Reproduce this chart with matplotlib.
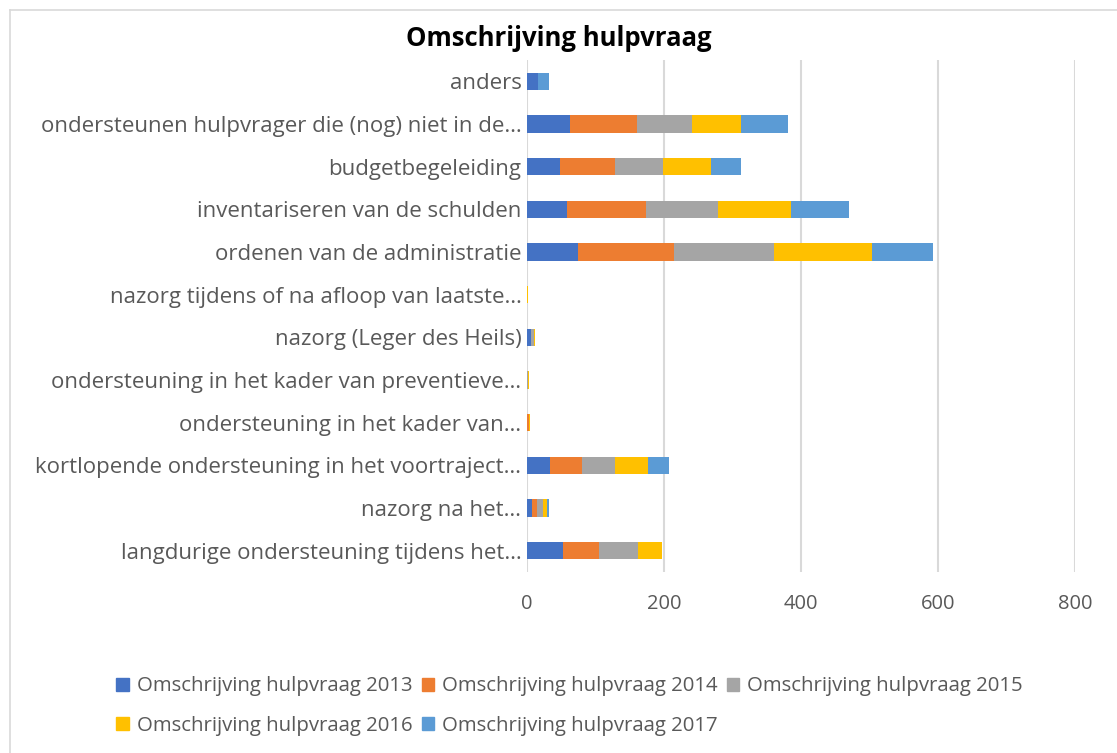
import numpy as np
import matplotlib.pyplot as plt
from matplotlib.lines import Line2D

plt.rcParams['font.family'] = ['Open Sans', 'DejaVu Sans']

# categorieen, van onder naar boven
categories = [
    "langdurige ondersteuning tijdens het…",
    "nazorg na het…",
    "kortlopende ondersteuning in het voortraject…",
    "ondersteuning in het kader van…",
    "ondersteuning in het kader van preventieve…",
    "nazorg (Leger des Heils)",
    "nazorg tijdens of na afloop van laatste…",
    "ordenen van de administratie",
    "inventariseren van de schulden",
    "budgetbegeleiding",
    "ondersteunen hulpvrager die (nog) niet in de…",
    "anders",
]
v2013 = [53, 7, 33, 0, 0, 6, 0, 75, 59, 48, 63, 16]
v2014 = [52, 8, 47, 3, 0, 0, 0, 140, 114, 81, 97, 0]
v2015 = [57, 9, 48, 0, 2, 4, 0, 145, 106, 69, 81, 0]
v2016 = [35, 5, 48, 2, 1, 2, 1, 143, 107, 70, 71, 0]
v2017 = [0, 3, 32, 0, 0, 0, 0, 90, 84, 44, 69, 16]

series = [v2013, v2014, v2015, v2016, v2017]
labels = ["Omschrijving hulpvraag 2013", "Omschrijving hulpvraag 2014",
          "Omschrijving hulpvraag 2015", "Omschrijving hulpvraag 2016",
          "Omschrijving hulpvraag 2017"]
colors = ["#4472C4", "#ED7D31", "#A5A5A5", "#FFC000", "#5B9BD5"]

fig = plt.figure(figsize=(11.17, 7.53), dpi=100)
ax = fig.add_axes([527/1117, 1-572/753, (1075-527)/1117, (572-60)/753])

y = np.arange(len(categories))
left = np.zeros(len(categories))
handles = []
for vals, lab, c in zip(series, labels, colors):
    ax.barh(y, vals, left=left, height=0.4, color=c, label=lab, zorder=3)
    left += np.array(vals)
    handles.append(plt.Rectangle((0, 0), 1, 1, color=c))

ax.set_xlim(0, 800)
ax.set_ylim(-0.5, len(categories) - 0.5)
ax.set_xticks([0, 200, 400, 600, 800])
ax.set_yticks(y)
ax.set_yticklabels(categories)
ax.tick_params(axis='x', length=0, labelsize=14.5, labelcolor="#595959", pad=16)
ax.tick_params(axis='y', length=0, labelsize=16, labelcolor="#595959", pad=4)
ax.grid(axis='x', color="#D9D9D9", linewidth=1.5, zorder=0)
for s in ax.spines.values():
    s.set_visible(False)

fig.text(0.5, 1-38/753, "Omschrijving hulpvraag", ha='center', va='center',
         fontsize=18.5, fontweight='bold', color='black')

order = [0, 3, 1, 4, 2]
leg = fig.legend([handles[i] for i in order], [labels[i] for i in order],
                 ncol=3, loc='upper left', bbox_to_anchor=(98/1117, 1-658/753),
                 frameon=False, fontsize=14.7, handlelength=0.6, handleheight=0.6,
                 handletextpad=0.4, columnspacing=0.45, labelspacing=0.95)
for t in leg.get_texts():
    t.set_color("#595959")

# kader om de grafiek
fig.add_artist(Line2D([10/1117, 10/1117], [0, 1-10/753], color="#D9D9D9", lw=1.2))
fig.add_artist(Line2D([10/1117, 1], [1-10/753, 1-10/753], color="#D9D9D9", lw=1.2))

fig.savefig("out.png", dpi=100)
